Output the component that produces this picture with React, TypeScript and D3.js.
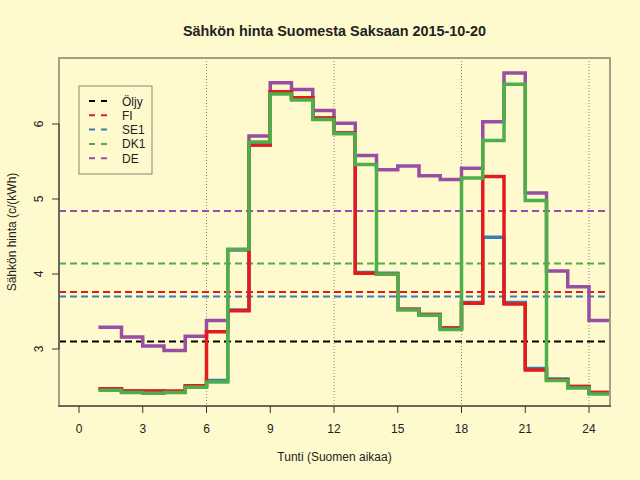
import React, { useEffect, useRef } from 'react';
import * as d3 from 'd3';

// Hourly prices, c/kWh, hour 1..24 (value holds until next hour)
const hours = [1, 2, 3, 4, 5, 6, 7, 8, 9, 10, 11, 12, 13, 14, 15, 16, 17, 18, 19, 20, 21, 22, 23, 24];
const fiValues = [2.47, 2.44, 2.44, 2.44, 2.51, 3.23, 3.51, 5.72, 6.43, 6.35, 6.08, 5.88, 4.01, 4.0, 3.53, 3.46, 3.28, 3.61, 5.3, 3.6, 2.72, 2.59, 2.5, 2.42];
const se1Values = [2.47, 2.44, 2.44, 2.43, 2.5, 2.58, 3.52, 5.72, 6.43, 6.35, 6.08, 5.88, 4.02, 4.01, 3.53, 3.46, 3.28, 3.62, 4.49, 3.62, 2.74, 2.6, 2.5, 2.42];
const dk1Values = [2.45, 2.42, 2.41, 2.42, 2.49, 2.56, 4.33, 5.76, 6.4, 6.32, 6.06, 5.87, 5.46, 4.0, 3.52, 3.45, 3.26, 5.28, 5.78, 6.53, 4.98, 2.58, 2.48, 2.4];
const deValues = [3.29, 3.16, 3.04, 2.98, 3.17, 3.38, 4.32, 5.84, 6.55, 6.46, 6.18, 6.01, 5.58, 5.39, 5.44, 5.31, 5.26, 5.41, 6.03, 6.68, 5.08, 4.04, 3.83, 3.38];

// Daily averages drawn as dashed horizontal lines
const legendNames = ['Öljy', 'FI', 'SE1', 'DK1', 'DE'];
const averages = [3.1, 3.76, 3.7, 4.14, 4.84];
const lineColors = ['#000000', '#E41A1C', '#377EB8', '#4DAF4A', '#984EA3'];

const xTicks = [0, 3, 6, 9, 12, 15, 18, 21, 24];
const yTicks = [3, 4, 5, 6];
const hourGuides = [6, 12, 18, 24];

const W = 640;
const H = 480;
const BG = '#FFFACD';
const TEXT = '#222';

const App: React.FC = () => {
  const svgRef = useRef<SVGSVGElement>(null);

  useEffect(() => {
    if (!svgRef.current) return;
    const svg = d3.select(svgRef.current);
    svg.selectAll('*').remove();

    const plot = { left: 59, right: 610, top: 58, bottom: 406 };

    const x = d3.scaleLinear().domain([0, 24]).range([79, 589]);
    const y = d3.scaleLinear().domain([3, 6]).range([349, 124]);

    svg.append('rect').attr('width', W).attr('height', H).attr('fill', BG);

    svg.append('clipPath')
      .attr('id', 'plot-clip')
      .append('rect')
      .attr('x', plot.left)
      .attr('y', plot.top)
      .attr('width', plot.right - plot.left)
      .attr('height', plot.bottom - plot.top);

    // Vertical dotted guides
    svg.append('g')
      .selectAll('line')
      .data(hourGuides)
      .enter()
      .append('line')
      .attr('x1', d => x(d))
      .attr('x2', d => x(d))
      .attr('y1', plot.top)
      .attr('y2', plot.bottom)
      .attr('stroke', '#888')
      .attr('stroke-width', 1)
      .attr('stroke-dasharray', '1,2');

    // Average lines
    svg.append('g')
      .selectAll('line')
      .data(averages)
      .enter()
      .append('line')
      .attr('x1', plot.left)
      .attr('x2', plot.right)
      .attr('y1', d => y(d))
      .attr('y2', d => y(d))
      .attr('stroke', (_, i) => lineColors[i])
      .attr('stroke-width', 2)
      .attr('stroke-dasharray', '7,4');

    // Step lines
    const step = d3.line<[number, number]>()
      .x(d => x(d[0]))
      .y(d => y(d[1]))
      .curve(d3.curveStepAfter);

    const series: [number[], string][] = [
      [deValues, lineColors[4]],
      [se1Values, lineColors[2]],
      [fiValues, lineColors[1]],
      [dk1Values, lineColors[3]]
    ];

    const lines = svg.append('g').attr('clip-path', 'url(#plot-clip)');
    series.forEach(([values, color]) => {
      const pts: [number, number][] = hours.map((h, i) => [h, values[i]]);
      pts.push([hours[hours.length - 1] + 1, values[values.length - 1]]);
      lines.append('path')
        .datum(pts)
        .attr('d', step)
        .attr('fill', 'none')
        .attr('stroke', color)
        .attr('stroke-width', 3.5)
        .attr('stroke-linejoin', 'miter')
        .attr('stroke-linecap', 'square');
    });

    // Plot frame
    svg.append('rect')
      .attr('x', plot.left)
      .attr('y', plot.top)
      .attr('width', plot.right - plot.left)
      .attr('height', plot.bottom - plot.top)
      .attr('fill', 'none')
      .attr('stroke', '#a59d86')
      .attr('stroke-width', 2);

    // X axis
    svg.append('line')
      .attr('x1', plot.left - 1)
      .attr('x2', plot.right + 1)
      .attr('y1', plot.bottom)
      .attr('y2', plot.bottom)
      .attr('stroke', '#333')
      .attr('stroke-width', 1);

    const xAxis = svg.append('g');
    xTicks.forEach(t => {
      xAxis.append('line')
        .attr('x1', x(t))
        .attr('x2', x(t))
        .attr('y1', plot.bottom)
        .attr('y2', plot.bottom + 7)
        .attr('stroke', '#333');
      xAxis.append('text')
        .attr('x', x(t))
        .attr('y', 433)
        .attr('text-anchor', 'middle')
        .style('font-size', '12px')
        .attr('fill', TEXT)
        .text(t);
    });

    // Y axis
    svg.append('line')
      .attr('x1', plot.left)
      .attr('x2', plot.left)
      .attr('y1', y(3))
      .attr('y2', y(6))
      .attr('stroke', '#333');

    const yAxis = svg.append('g');
    yTicks.forEach(t => {
      yAxis.append('line')
        .attr('x1', plot.left - 7)
        .attr('x2', plot.left)
        .attr('y1', y(t))
        .attr('y2', y(t))
        .attr('stroke', '#333');
      yAxis.append('text')
        .attr('transform', `translate(43,${y(t)}) rotate(-90)`)
        .attr('text-anchor', 'middle')
        .style('font-size', '12px')
        .attr('fill', TEXT)
        .text(t);
    });

    // Titles
    svg.append('text')
      .attr('x', (plot.left + plot.right) / 2)
      .attr('y', 36)
      .attr('text-anchor', 'middle')
      .style('font-size', '14.4px')
      .style('font-weight', 'bold')
      .attr('fill', TEXT)
      .text('Sähkön hinta Suomesta Saksaan 2015-10-20');

    svg.append('text')
      .attr('x', (plot.left + plot.right) / 2)
      .attr('y', 461)
      .attr('text-anchor', 'middle')
      .style('font-size', '12px')
      .attr('fill', TEXT)
      .text('Tunti (Suomen aikaa)');

    svg.append('text')
      .attr('transform', `translate(16,${(plot.top + plot.bottom) / 2}) rotate(-90)`)
      .attr('text-anchor', 'middle')
      .style('font-size', '12px')
      .attr('fill', TEXT)
      .text('Sähkön hinta (c/(kWh)');

    // Legend
    const legend = svg.append('g').attr('transform', 'translate(79,86)');
    legend.append('rect')
      .attr('width', 73)
      .attr('height', 88)
      .attr('fill', BG)
      .attr('stroke', '#8a846f')
      .attr('stroke-width', 1);

    legendNames.forEach((name, i) => {
      const row = legend.append('g').attr('transform', `translate(0,${15 + i * 14.3})`);
      row.append('line')
        .attr('x1', 10)
        .attr('x2', 29)
        .attr('y1', 0)
        .attr('y2', 0)
        .attr('stroke', lineColors[i])
        .attr('stroke-width', 2)
        .attr('stroke-dasharray', '6,6');
      row.append('text')
        .attr('x', 43)
        .attr('y', 4.5)
        .style('font-size', '12px')
        .attr('fill', TEXT)
        .text(name);
    });
  }, []);

  return (
    <svg
      ref={svgRef}
      width={W}
      height={H}
      style={{ position: 'absolute', left: 0, top: 0, fontFamily: '"Liberation Sans", Arial, sans-serif' }}
    />
  );
};

export default App;
